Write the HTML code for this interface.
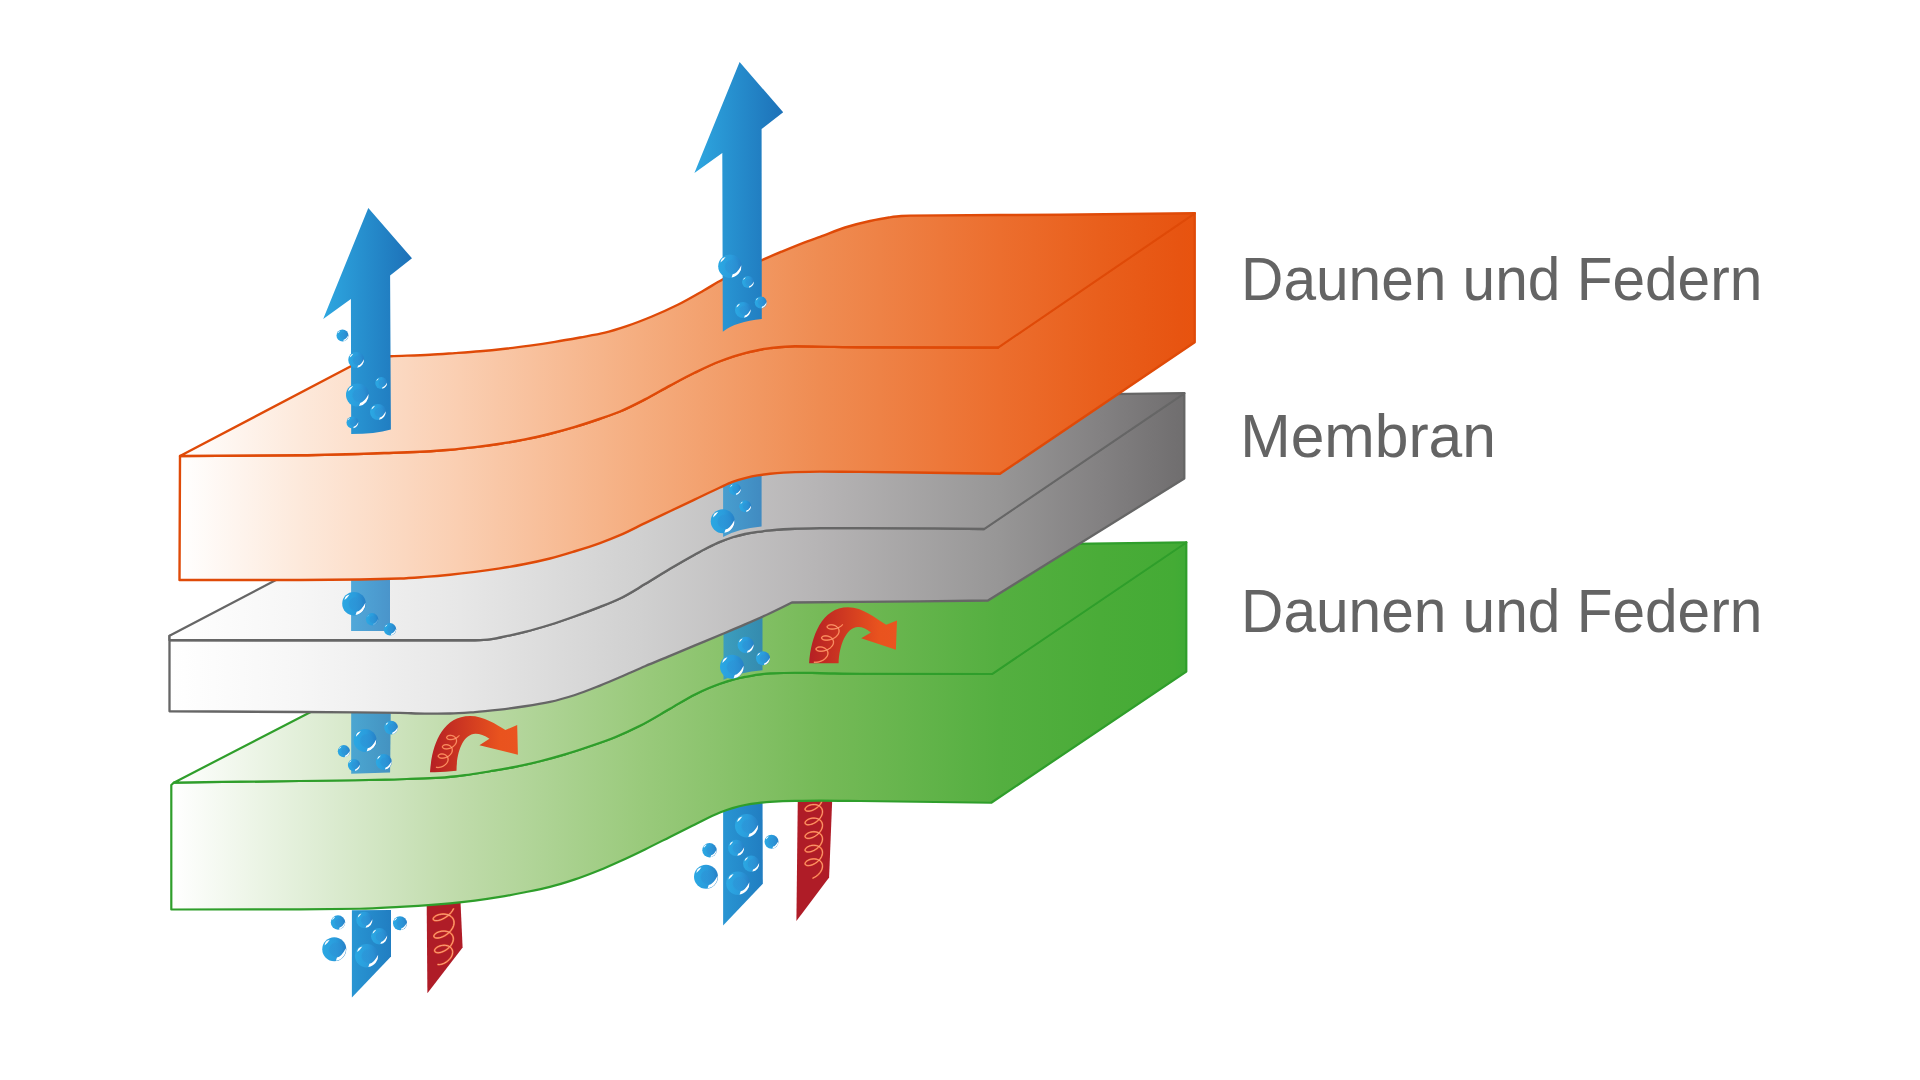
<!DOCTYPE html>
<html><head><meta charset="utf-8"><title>Membran</title>
<style>html,body{margin:0;padding:0;background:#fff;}body{width:1920px;height:1080px;overflow:hidden;font-family:"Liberation Sans",sans-serif;}svg{display:block}</style>
</head><body>
<svg width="1920" height="1080" viewBox="0 0 1920 1080">
<defs>
<linearGradient id="go" gradientUnits="userSpaceOnUse" x1="180" y1="0" x2="1196" y2="0"><stop offset="0.0000" stop-color="#ffffff"/><stop offset="0.1181" stop-color="#fde9db"/><stop offset="0.2756" stop-color="#faceb1"/><stop offset="0.4528" stop-color="#f5ad7f"/><stop offset="0.6299" stop-color="#ef8c52"/><stop offset="0.8071" stop-color="#ec6e2e"/><stop offset="0.9055" stop-color="#e95f1c"/><stop offset="0.9843" stop-color="#e75411"/><stop offset="1.0000" stop-color="#e8530e"/></linearGradient>
<linearGradient id="gg" gradientUnits="userSpaceOnUse" x1="170" y1="0" x2="1186" y2="0"><stop offset="0.0000" stop-color="#ffffff"/><stop offset="0.1280" stop-color="#f6f6f6"/><stop offset="0.2854" stop-color="#e7e7e7"/><stop offset="0.4626" stop-color="#d0d0d0"/><stop offset="0.6398" stop-color="#b6b4b5"/><stop offset="0.8169" stop-color="#979696"/><stop offset="0.9154" stop-color="#838182"/><stop offset="0.9921" stop-color="#716f70"/><stop offset="1.0000" stop-color="#6f6e6e"/></linearGradient>
<linearGradient id="gn" gradientUnits="userSpaceOnUse" x1="172" y1="0" x2="1188" y2="0"><stop offset="0.0000" stop-color="#ffffff"/><stop offset="0.1260" stop-color="#e2efd9"/><stop offset="0.2835" stop-color="#bfdbaa"/><stop offset="0.4606" stop-color="#9aca7c"/><stop offset="0.6378" stop-color="#76ba58"/><stop offset="0.8150" stop-color="#54af40"/><stop offset="0.9134" stop-color="#4aac38"/><stop offset="0.9862" stop-color="#44ab35"/><stop offset="1.0000" stop-color="#3eaa35"/></linearGradient>

<linearGradient id="ga1" gradientUnits="userSpaceOnUse" x1="323" y1="0" x2="412" y2="0"><stop offset="0" stop-color="#2ea7e0"/><stop offset="1" stop-color="#1d71b8"/></linearGradient>
<linearGradient id="ga2" gradientUnits="userSpaceOnUse" x1="694" y1="0" x2="783" y2="0"><stop offset="0" stop-color="#2ea7e0"/><stop offset="1" stop-color="#1d71b8"/></linearGradient>
<linearGradient id="gb" x1="0" y1="0" x2="1" y2="0"><stop offset="0" stop-color="#2ba8e3"/><stop offset="0.55" stop-color="#2a9cdc"/><stop offset="1" stop-color="#2780c7"/></linearGradient>
<radialGradient id="gbi" cx="0.5" cy="0.5" r="0.5"><stop offset="0" stop-color="#2d90d4" stop-opacity="0.55"/><stop offset="0.8" stop-color="#2d90d4" stop-opacity="0.45"/><stop offset="1" stop-color="#2d8fd3" stop-opacity="0"/></radialGradient>
<linearGradient id="gr1" gradientUnits="userSpaceOnUse" x1="430" y1="0" x2="518" y2="0"><stop offset="0" stop-color="#b51f24"/><stop offset="0.8" stop-color="#e9531e"/><stop offset="1" stop-color="#ea5420"/></linearGradient>
<linearGradient id="gr2" gradientUnits="userSpaceOnUse" x1="809" y1="0" x2="897" y2="0"><stop offset="0" stop-color="#b51f24"/><stop offset="0.8" stop-color="#e9531e"/><stop offset="1" stop-color="#ea5420"/></linearGradient>
</defs>
<rect width="1920" height="1080" fill="#ffffff"/>
<path d="M351.9,910.3 L391,910.1 L391,956.5 L351.9,997.4 Z" fill="url(#ga1)"/>
<path d="M723.1,790 L762.5,790 L762.8,883.75 L723.1,925.5 Z" fill="url(#ga2)"/>
<path d="M426.5,880 L459.5,880 L462.6,947.5 L427.4,993.2 Z" fill="#af1c27"/>
<path d="M798,780 L833,780 L829.1,877.5 L796.4,920.9 Z" fill="#af1c27"/>
<path d="M453.42,908.94 L452.38,910.77 L451.08,912.52 L449.57,914.17 L447.89,915.68 L446.09,917.02 L444.23,918.17 L442.37,919.11 L440.55,919.83 L438.84,920.33 L437.28,920.59 L435.93,920.65 L434.81,920.5 L433.97,920.17 L433.43,919.69 L433.2,919.09 L433.29,918.39 L433.7,917.65 L434.41,916.89 L435.39,916.15 L436.63,915.48 L438.08,914.9 L439.69,914.45 L441.42,914.17 L443.22,914.06 L445.02,914.15 L446.79,914.46 L448.45,914.98 L449.97,915.71 L451.3,916.66 L452.4,917.79 L453.24,919.1 L453.79,920.56 L454.04,922.13 L453.98,923.79 L453.62,925.5 L452.96,927.22 L452.03,928.92 L450.85,930.55 L449.47,932.09 L447.92,933.5 L446.26,934.75 L444.52,935.82 L442.78,936.69 L441.07,937.36 L439.45,937.8 L437.96,938.04 L436.66,938.06 L435.57,937.89 L434.74,937.55 L434.18,937.06 L433.92,936.44 L433.95,935.74 L434.28,934.98 L434.89,934.2 L435.76,933.44 L436.88,932.73 L438.2,932.12 L439.68,931.62 L441.28,931.27 L442.95,931.09 L444.63,931.1 L446.29,931.31 L447.86,931.72 L449.31,932.34 L450.59,933.16 L451.65,934.16 L452.48,935.34 L453.04,936.65 L453.32,938.08 L453.32,939.6 L453.03,941.17 L452.46,942.76 L451.64,944.32 L450.58,945.83 L449.33,947.25 L447.91,948.56 L446.38,949.71 L444.77,950.7 L443.14,951.5 L441.54,952.1 L440.02,952.5 L438.61,952.7 L437.36,952.69 L436.32,952.5 L435.5,952.14 L434.94,951.63 L434.64,951 L434.62,950.29 L434.87,949.51 L435.4,948.72 L436.17,947.94 L437.17,947.2 L438.36,946.55 L439.71,946 L441.18,945.59 L442.72,945.34 L444.29,945.27 L445.83,945.39 L447.31,945.7 L448.68,946.21 L449.89,946.9 L450.92,947.78 L451.72,948.82 L452.29,949.99 L452.6,951.28 L452.64,952.66 L452.42,954.09 L451.94,955.54 L451.22,956.97 L450.27,958.35 L449.14,959.66 L447.85,960.86 L446.45,961.92 L444.97,962.82 L443.47,963.54 L441.98,964.08 L440.55,964.43 L439.23,964.58 L438.05,964.54" fill="none" stroke="#ee5c2c" stroke-width="1.9" stroke-linecap="round" stroke-linejoin="round"/><path d="M453.42,908.94 L452.38,910.77 L451.08,912.52 L449.57,914.17 L447.89,915.68 L446.09,917.02 L444.23,918.17 L442.37,919.11 L440.55,919.83 L438.84,920.33 L437.28,920.59 L435.93,920.65 L434.81,920.5 L433.97,920.17 L433.43,919.69 L433.2,919.09 L433.29,918.39 L433.7,917.65 L434.41,916.89 L435.39,916.15 L436.63,915.48 L438.08,914.9 L439.69,914.45 L441.42,914.17 L443.22,914.06 L445.02,914.15 L446.79,914.46 L448.45,914.98 L449.97,915.71 L451.3,916.66 L452.4,917.79 L453.24,919.1 L453.79,920.56 L454.04,922.13 L453.98,923.79 L453.62,925.5 L452.96,927.22 L452.03,928.92 L450.85,930.55 L449.47,932.09 L447.92,933.5 L446.26,934.75 L444.52,935.82 L442.78,936.69 L441.07,937.36 L439.45,937.8 L437.96,938.04 L436.66,938.06 L435.57,937.89 L434.74,937.55 L434.18,937.06 L433.92,936.44 L433.95,935.74 L434.28,934.98 L434.89,934.2 L435.76,933.44 L436.88,932.73 L438.2,932.12 L439.68,931.62 L441.28,931.27 L442.95,931.09 L444.63,931.1 L446.29,931.31 L447.86,931.72 L449.31,932.34 L450.59,933.16 L451.65,934.16 L452.48,935.34 L453.04,936.65 L453.32,938.08 L453.32,939.6 L453.03,941.17 L452.46,942.76 L451.64,944.32 L450.58,945.83 L449.33,947.25 L447.91,948.56 L446.38,949.71 L444.77,950.7 L443.14,951.5 L441.54,952.1 L440.02,952.5 L438.61,952.7 L437.36,952.69 L436.32,952.5 L435.5,952.14 L434.94,951.63 L434.64,951 L434.62,950.29 L434.87,949.51 L435.4,948.72 L436.17,947.94 L437.17,947.2 L438.36,946.55 L439.71,946 L441.18,945.59 L442.72,945.34 L444.29,945.27 L445.83,945.39 L447.31,945.7 L448.68,946.21 L449.89,946.9 L450.92,947.78 L451.72,948.82 L452.29,949.99 L452.6,951.28 L452.64,952.66 L452.42,954.09 L451.94,955.54 L451.22,956.97 L450.27,958.35 L449.14,959.66 L447.85,960.86 L446.45,961.92 L444.97,962.82 L443.47,963.54 L441.98,964.08 L440.55,964.43 L439.23,964.58 L438.05,964.54" fill="none" stroke="#f9b59b" stroke-width="0.8" stroke-linecap="round" stroke-linejoin="round"/>
<path d="M821.68,801.81 L820.93,803.27 L819.96,804.69 L818.81,806.02 L817.51,807.25 L816.09,808.34 L814.61,809.27 L813.1,810.03 L811.61,810.6 L810.19,810.99 L808.88,811.18 L807.71,811.19 L806.73,811.02 L805.96,810.69 L805.43,810.23 L805.14,809.65 L805.12,808.99 L805.36,808.28 L805.85,807.55 L806.59,806.83 L807.54,806.16 L808.67,805.57 L809.96,805.09 L811.37,804.73 L812.85,804.54 L814.36,804.51 L815.85,804.67 L817.28,805.02 L818.6,805.56 L819.78,806.29 L820.78,807.19 L821.58,808.26 L822.13,809.46 L822.44,810.78 L822.49,812.18 L822.27,813.64 L821.8,815.12 L821.09,816.6 L820.16,818.02 L819.04,819.38 L817.77,820.62 L816.37,821.74 L814.9,822.71 L813.39,823.5 L811.89,824.11 L810.46,824.53 L809.12,824.76 L807.92,824.8 L806.9,824.66 L806.09,824.36 L805.51,823.93 L805.18,823.37 L805.11,822.72 L805.3,822.02 L805.74,821.29 L806.43,820.57 L807.34,819.89 L808.44,819.28 L809.7,818.77 L811.09,818.39 L812.56,818.16 L814.07,818.1 L815.56,818.23 L817.01,818.54 L818.36,819.04 L819.57,819.74 L820.61,820.61 L821.44,821.64 L822.04,822.82 L822.4,824.12 L822.5,825.51 L822.33,826.96 L821.91,828.44 L821.25,829.91 L820.36,831.35 L819.27,832.72 L818.02,833.99 L816.65,835.14 L815.18,836.13 L813.68,836.96 L812.18,837.61 L810.73,838.06 L809.37,838.33 L808.14,838.4 L807.08,838.3 L806.23,838.03 L805.6,837.62 L805.22,837.08 L805.1,836.45 L805.24,835.76 L805.64,835.03 L806.28,834.31 L807.15,833.61 L808.21,832.99 L809.45,832.46 L810.82,832.05 L812.27,831.79 L813.78,831.7 L815.28,831.79 L816.74,832.06 L818.11,832.53 L819.35,833.19 L820.42,834.03 L821.3,835.03 L821.95,836.18 L822.35,837.46 L822.5,838.83 L822.39,840.28 L822.01,841.75 L821.39,843.23 L820.55,844.68 L819.5,846.07 L818.28,847.36 L816.92,848.53 L815.47,849.55 L813.97,850.41 L812.46,851.1 L811,851.59 L809.62,851.89 L808.36,852 L807.27,851.94 L806.38,851.7 L805.7,851.31 L805.28,850.8 L805.1,850.18 L805.19,849.5 L805.54,848.77 L806.14,848.04 L806.96,847.34 L807.99,846.7 L809.2,846.15 L810.55,845.72 L811.99,845.43 L813.49,845.3 L814.99,845.36 L816.46,845.6 L817.85,846.03 L819.12,846.65 L820.23,847.45 L821.15,848.43 L821.84,849.55 L822.29,850.81 L822.49,852.16 L822.43,853.59 L822.1,855.07 L821.53,856.55 L820.73,858.01 L819.71,859.41 L818.52,860.72 L817.19,861.91 L815.75,862.97 L814.26,863.86 L812.75,864.58 L811.28,865.11 L809.88,865.45 L808.59,865.6 L807.47,865.56 L806.53,865.36 L805.82,865 L805.34,864.5 L805.12,863.91 L805.15,863.23 L805.45,862.51 L806,861.78 L806.79,861.07 L807.78,860.42 L808.96,859.85 L810.28,859.39 L811.7,859.07 L813.19,858.92 L814.7,858.93 L816.18,859.13 L817.59,859.53 L818.89,860.11 L820.03,860.88 L820.99,861.83 L821.73,862.92 L822.23,864.16 L822.47,865.5 L822.46,866.91 L822.19,868.38 L821.66,869.86 L820.9,871.33 L819.92,872.74 L818.76,874.07 L817.45,875.29 L816.04,876.38 L814.55,877.3 L813.04,878.06" fill="none" stroke="#ee5c2c" stroke-width="1.7" stroke-linecap="round" stroke-linejoin="round"/><path d="M821.68,801.81 L820.93,803.27 L819.96,804.69 L818.81,806.02 L817.51,807.25 L816.09,808.34 L814.61,809.27 L813.1,810.03 L811.61,810.6 L810.19,810.99 L808.88,811.18 L807.71,811.19 L806.73,811.02 L805.96,810.69 L805.43,810.23 L805.14,809.65 L805.12,808.99 L805.36,808.28 L805.85,807.55 L806.59,806.83 L807.54,806.16 L808.67,805.57 L809.96,805.09 L811.37,804.73 L812.85,804.54 L814.36,804.51 L815.85,804.67 L817.28,805.02 L818.6,805.56 L819.78,806.29 L820.78,807.19 L821.58,808.26 L822.13,809.46 L822.44,810.78 L822.49,812.18 L822.27,813.64 L821.8,815.12 L821.09,816.6 L820.16,818.02 L819.04,819.38 L817.77,820.62 L816.37,821.74 L814.9,822.71 L813.39,823.5 L811.89,824.11 L810.46,824.53 L809.12,824.76 L807.92,824.8 L806.9,824.66 L806.09,824.36 L805.51,823.93 L805.18,823.37 L805.11,822.72 L805.3,822.02 L805.74,821.29 L806.43,820.57 L807.34,819.89 L808.44,819.28 L809.7,818.77 L811.09,818.39 L812.56,818.16 L814.07,818.1 L815.56,818.23 L817.01,818.54 L818.36,819.04 L819.57,819.74 L820.61,820.61 L821.44,821.64 L822.04,822.82 L822.4,824.12 L822.5,825.51 L822.33,826.96 L821.91,828.44 L821.25,829.91 L820.36,831.35 L819.27,832.72 L818.02,833.99 L816.65,835.14 L815.18,836.13 L813.68,836.96 L812.18,837.61 L810.73,838.06 L809.37,838.33 L808.14,838.4 L807.08,838.3 L806.23,838.03 L805.6,837.62 L805.22,837.08 L805.1,836.45 L805.24,835.76 L805.64,835.03 L806.28,834.31 L807.15,833.61 L808.21,832.99 L809.45,832.46 L810.82,832.05 L812.27,831.79 L813.78,831.7 L815.28,831.79 L816.74,832.06 L818.11,832.53 L819.35,833.19 L820.42,834.03 L821.3,835.03 L821.95,836.18 L822.35,837.46 L822.5,838.83 L822.39,840.28 L822.01,841.75 L821.39,843.23 L820.55,844.68 L819.5,846.07 L818.28,847.36 L816.92,848.53 L815.47,849.55 L813.97,850.41 L812.46,851.1 L811,851.59 L809.62,851.89 L808.36,852 L807.27,851.94 L806.38,851.7 L805.7,851.31 L805.28,850.8 L805.1,850.18 L805.19,849.5 L805.54,848.77 L806.14,848.04 L806.96,847.34 L807.99,846.7 L809.2,846.15 L810.55,845.72 L811.99,845.43 L813.49,845.3 L814.99,845.36 L816.46,845.6 L817.85,846.03 L819.12,846.65 L820.23,847.45 L821.15,848.43 L821.84,849.55 L822.29,850.81 L822.49,852.16 L822.43,853.59 L822.1,855.07 L821.53,856.55 L820.73,858.01 L819.71,859.41 L818.52,860.72 L817.19,861.91 L815.75,862.97 L814.26,863.86 L812.75,864.58 L811.28,865.11 L809.88,865.45 L808.59,865.6 L807.47,865.56 L806.53,865.36 L805.82,865 L805.34,864.5 L805.12,863.91 L805.15,863.23 L805.45,862.51 L806,861.78 L806.79,861.07 L807.78,860.42 L808.96,859.85 L810.28,859.39 L811.7,859.07 L813.19,858.92 L814.7,858.93 L816.18,859.13 L817.59,859.53 L818.89,860.11 L820.03,860.88 L820.99,861.83 L821.73,862.92 L822.23,864.16 L822.47,865.5 L822.46,866.91 L822.19,868.38 L821.66,869.86 L820.9,871.33 L819.92,872.74 L818.76,874.07 L817.45,875.29 L816.04,876.38 L814.55,877.3 L813.04,878.06" fill="none" stroke="#f9b59b" stroke-width="0.71" stroke-linecap="round" stroke-linejoin="round"/>
<g transform="translate(338,922.5) scale(0.72)"><circle r="10" fill="url(#gb)"/><circle cx="1.4" cy="0.3" r="6.4" fill="url(#gbi)"/><g><path d="M9.66,-0.85 A9.7,9.7 0 0 1 1.35,9.6 L2.24,6.87 Q5.98,6.32 9.66,-0.85Z" fill="#fff"/><path d="M-8.06,-3.13 A5.26,5.26 0 0 1 -3.73,-7.9 A19.3,19.3 0 0 1 -8.06,-3.13Z" fill="#fff"/></g></g>
<g transform="translate(364.5,920) scale(0.82)"><circle r="10" fill="url(#gb)"/><circle cx="1.4" cy="0.3" r="6.4" fill="url(#gbi)"/><g><path d="M9.66,-0.85 A9.7,9.7 0 0 1 1.35,9.6 L2.24,6.87 Q5.98,6.32 9.66,-0.85Z" fill="#fff"/><path d="M-8.06,-3.13 A5.26,5.26 0 0 1 -3.73,-7.9 A19.3,19.3 0 0 1 -8.06,-3.13Z" fill="#fff"/></g></g>
<g transform="translate(400,923.25) scale(0.7)"><circle r="10" fill="url(#gb)"/><circle cx="1.4" cy="0.3" r="6.4" fill="url(#gbi)"/><g><path d="M9.66,-0.85 A9.7,9.7 0 0 1 1.35,9.6 L2.24,6.87 Q5.98,6.32 9.66,-0.85Z" fill="#fff"/><path d="M-8.06,-3.13 A5.26,5.26 0 0 1 -3.73,-7.9 A19.3,19.3 0 0 1 -8.06,-3.13Z" fill="#fff"/></g></g>
<g transform="translate(379.25,936.25) scale(0.82)"><circle r="10" fill="url(#gb)"/><circle cx="1.4" cy="0.3" r="6.4" fill="url(#gbi)"/><g><path d="M9.66,-0.85 A9.7,9.7 0 0 1 1.35,9.6 L2.24,6.87 Q5.98,6.32 9.66,-0.85Z" fill="#fff"/><path d="M-8.06,-3.13 A5.26,5.26 0 0 1 -3.73,-7.9 A19.3,19.3 0 0 1 -8.06,-3.13Z" fill="#fff"/></g></g>
<g transform="translate(334.25,949.25) scale(1.2)"><circle r="10" fill="url(#gb)"/><circle cx="1.4" cy="0.3" r="6.4" fill="url(#gbi)"/><g><path d="M9.66,-0.85 A9.7,9.7 0 0 1 1.35,9.6 L2.24,6.87 Q5.98,6.32 9.66,-0.85Z" fill="#fff"/><path d="M-8.06,-3.13 A5.26,5.26 0 0 1 -3.73,-7.9 A19.3,19.3 0 0 1 -8.06,-3.13Z" fill="#fff"/></g></g>
<g transform="translate(366.75,955.75) scale(1.18)"><circle r="10" fill="url(#gb)"/><circle cx="1.4" cy="0.3" r="6.4" fill="url(#gbi)"/><g><path d="M9.66,-0.85 A9.7,9.7 0 0 1 1.35,9.6 L2.24,6.87 Q5.98,6.32 9.66,-0.85Z" fill="#fff"/><path d="M-8.06,-3.13 A5.26,5.26 0 0 1 -3.73,-7.9 A19.3,19.3 0 0 1 -8.06,-3.13Z" fill="#fff"/></g></g>
<g transform="translate(746.75,825.75) scale(1.18)"><circle r="10" fill="url(#gb)"/><circle cx="1.4" cy="0.3" r="6.4" fill="url(#gbi)"/><g><path d="M9.66,-0.85 A9.7,9.7 0 0 1 1.35,9.6 L2.24,6.87 Q5.98,6.32 9.66,-0.85Z" fill="#fff"/><path d="M-8.06,-3.13 A5.26,5.26 0 0 1 -3.73,-7.9 A19.3,19.3 0 0 1 -8.06,-3.13Z" fill="#fff"/></g></g>
<g transform="translate(771.5,841.75) scale(0.7)"><circle r="10" fill="url(#gb)"/><circle cx="1.4" cy="0.3" r="6.4" fill="url(#gbi)"/><g><path d="M9.66,-0.85 A9.7,9.7 0 0 1 1.35,9.6 L2.24,6.87 Q5.98,6.32 9.66,-0.85Z" fill="#fff"/><path d="M-8.06,-3.13 A5.26,5.26 0 0 1 -3.73,-7.9 A19.3,19.3 0 0 1 -8.06,-3.13Z" fill="#fff"/></g></g>
<g transform="translate(709.5,850.25) scale(0.72)"><circle r="10" fill="url(#gb)"/><circle cx="1.4" cy="0.3" r="6.4" fill="url(#gbi)"/><g><path d="M9.66,-0.85 A9.7,9.7 0 0 1 1.35,9.6 L2.24,6.87 Q5.98,6.32 9.66,-0.85Z" fill="#fff"/><path d="M-8.06,-3.13 A5.26,5.26 0 0 1 -3.73,-7.9 A19.3,19.3 0 0 1 -8.06,-3.13Z" fill="#fff"/></g></g>
<g transform="translate(736.25,848) scale(0.82)"><circle r="10" fill="url(#gb)"/><circle cx="1.4" cy="0.3" r="6.4" fill="url(#gbi)"/><g><path d="M9.66,-0.85 A9.7,9.7 0 0 1 1.35,9.6 L2.24,6.87 Q5.98,6.32 9.66,-0.85Z" fill="#fff"/><path d="M-8.06,-3.13 A5.26,5.26 0 0 1 -3.73,-7.9 A19.3,19.3 0 0 1 -8.06,-3.13Z" fill="#fff"/></g></g>
<g transform="translate(751.25,863.75) scale(0.82)"><circle r="10" fill="url(#gb)"/><circle cx="1.4" cy="0.3" r="6.4" fill="url(#gbi)"/><g><path d="M9.66,-0.85 A9.7,9.7 0 0 1 1.35,9.6 L2.24,6.87 Q5.98,6.32 9.66,-0.85Z" fill="#fff"/><path d="M-8.06,-3.13 A5.26,5.26 0 0 1 -3.73,-7.9 A19.3,19.3 0 0 1 -8.06,-3.13Z" fill="#fff"/></g></g>
<g transform="translate(706,876.75) scale(1.2)"><circle r="10" fill="url(#gb)"/><circle cx="1.4" cy="0.3" r="6.4" fill="url(#gbi)"/><g><path d="M9.66,-0.85 A9.7,9.7 0 0 1 1.35,9.6 L2.24,6.87 Q5.98,6.32 9.66,-0.85Z" fill="#fff"/><path d="M-8.06,-3.13 A5.26,5.26 0 0 1 -3.73,-7.9 A19.3,19.3 0 0 1 -8.06,-3.13Z" fill="#fff"/></g></g>
<g transform="translate(738,883.25) scale(1.18)"><circle r="10" fill="url(#gb)"/><circle cx="1.4" cy="0.3" r="6.4" fill="url(#gbi)"/><g><path d="M9.66,-0.85 A9.7,9.7 0 0 1 1.35,9.6 L2.24,6.87 Q5.98,6.32 9.66,-0.85Z" fill="#fff"/><path d="M-8.06,-3.13 A5.26,5.26 0 0 1 -3.73,-7.9 A19.3,19.3 0 0 1 -8.06,-3.13Z" fill="#fff"/></g></g>
<path d="M171.3,785 L173.75,782.7 C195.83,782.33 217.92,781.99 240,781.7 C260,781.44 280,781.26 300,781 C328.33,780.63 356.67,780.33 385,779.7 C393.33,779.52 401.67,779.2 410,778.9 C420,778.55 430,778.28 440,777.7 C448.33,777.22 456.67,776.22 465,775.2 C473.33,774.18 481.67,772.63 490,771.25 C498.33,769.87 506.67,768.54 515,766.9 C523.33,765.26 531.67,763.31 540,761.25 C548.33,759.19 556.67,756.88 565,754.4 C573.33,751.92 581.67,749.11 590,746.25 C598.33,743.39 606.67,740.56 615,737.2 C623.33,733.84 631.67,730 640,725.8 C650,720.76 660,714.46 670,708.75 C678.33,703.99 686.67,698.48 695,694.4 C703.33,690.32 711.67,686.53 720,683.75 C728.33,680.97 736.67,678.44 745,676.9 C753.33,675.36 761.67,673.77 770,673.4 C778.33,673.03 786.67,672.75 795,672.75 C803.33,672.75 811.67,672.98 820,673.1 C833.33,673.3 846.67,673.7 860,673.75 C904,673.92 948,674 992,674 L1186.3,542.4 L1186.3,671.6 L991.25,802.75 C947.5,802.05 903.75,801.49 860,801 C846.67,800.85 833.33,800.6 820,800.6 C811.67,800.6 803.33,800.75 795,800.9 C786.67,801.05 778.33,801.41 770,801.9 C765.83,802.15 761.67,802.61 757.5,803.1 C753.33,803.59 749.17,804.21 745,805 C740.83,805.79 736.67,806.89 732.5,808.1 C728.33,809.31 724.17,810.84 720,812.5 C711.67,815.82 703.33,820.34 695,824.4 C686.67,828.46 678.33,832.73 670,836.9 C661.67,841.07 653.33,845.34 645,849.4 C636.67,853.46 628.33,857.46 620,861.25 C613.33,864.28 606.67,867.3 600,870 C591.67,873.38 583.33,876.62 575,879.4 C566.67,882.18 558.33,884.82 550,886.9 C541.67,888.98 533.33,890.59 525,892.25 C516.67,893.91 508.33,895.53 500,896.9 C491.67,898.27 483.33,899.54 475,900.6 C466.67,901.66 458.33,902.62 450,903.4 C441.67,904.18 433.33,904.83 425,905.4 C416.67,905.97 408.33,906.46 400,906.9 C386.67,907.6 373.33,908.54 360,908.75 C340,909.07 320,909.24 300,909.3 C257.1,909.42 214.2,909.5 171.3,909.5 Z" fill="url(#gn)" stroke="#2f9e2b" stroke-width="2.2" stroke-linejoin="round"/>
<path d="M173.75,782.7 L365,684 L900,546 L1186.3,542.4 L1186.3,542.4 L992,674 C948,674 904,673.92 860,673.75 C846.67,673.7 833.33,673.3 820,673.1 C811.67,672.98 803.33,672.75 795,672.75 C786.67,672.75 778.33,673.03 770,673.4 C761.67,673.77 753.33,675.36 745,676.9 C736.67,678.44 728.33,680.97 720,683.75 C711.67,686.53 703.33,690.32 695,694.4 C686.67,698.48 678.33,703.99 670,708.75 C660,714.46 650,720.76 640,725.8 C631.67,730 623.33,733.84 615,737.2 C606.67,740.56 598.33,743.39 590,746.25 C581.67,749.11 573.33,751.92 565,754.4 C556.67,756.88 548.33,759.19 540,761.25 C531.67,763.31 523.33,765.26 515,766.9 C506.67,768.54 498.33,769.87 490,771.25 C481.67,772.63 473.33,774.18 465,775.2 C456.67,776.22 448.33,777.22 440,777.7 C430,778.28 420,778.55 410,778.9 C401.67,779.2 393.33,779.52 385,779.7 C356.67,780.33 328.33,780.63 300,781 C280,781.26 260,781.44 240,781.7 C217.92,781.99 195.83,782.33 173.75,782.7 Z" fill="url(#gn)"/>
<path d="M992,674 C948,674 904,673.92 860,673.75 C846.67,673.7 833.33,673.3 820,673.1 C811.67,672.98 803.33,672.75 795,672.75 C786.67,672.75 778.33,673.03 770,673.4 C761.67,673.77 753.33,675.36 745,676.9 C736.67,678.44 728.33,680.97 720,683.75 C711.67,686.53 703.33,690.32 695,694.4 C686.67,698.48 678.33,703.99 670,708.75 C660,714.46 650,720.76 640,725.8 C631.67,730 623.33,733.84 615,737.2 C606.67,740.56 598.33,743.39 590,746.25 C581.67,749.11 573.33,751.92 565,754.4 C556.67,756.88 548.33,759.19 540,761.25 C531.67,763.31 523.33,765.26 515,766.9 C506.67,768.54 498.33,769.87 490,771.25 C481.67,772.63 473.33,774.18 465,775.2 C456.67,776.22 448.33,777.22 440,777.7 C430,778.28 420,778.55 410,778.9 C401.67,779.2 393.33,779.52 385,779.7 C356.67,780.33 328.33,780.63 300,781 C280,781.26 260,781.44 240,781.7 C217.92,781.99 195.83,782.33 173.75,782.7 L173.75,782.7 L365,684 L900,546 L1186.3,542.4 L1186.3,542.4" fill="none" stroke="#2f9e2b" stroke-width="2.2" stroke-linejoin="round" stroke-linecap="round"/>
<path d="M992,674 L1186.3,542.4" fill="none" stroke="#2f9e2b" stroke-width="1.7" stroke-linecap="round"/>
<path d="M351.2,690 L391,690 L390.1,772.4 L351.2,773.75 Z" fill="url(#ga1)" opacity="0.8"/>
<path d="M723.5,600 L762.5,600 L762.5,670.3 Q740,672 723.5,679.75 Z" fill="url(#ga2)" opacity="0.8"/>
<g transform="translate(391.1,727.6) scale(0.69)"><circle r="10" fill="url(#gb)"/><circle cx="1.4" cy="0.3" r="6.4" fill="url(#gbi)"/><g><path d="M9.66,-0.85 A9.7,9.7 0 0 1 1.35,9.6 L2.24,6.87 Q5.98,6.32 9.66,-0.85Z" fill="#fff"/><path d="M-8.06,-3.13 A5.26,5.26 0 0 1 -3.73,-7.9 A19.3,19.3 0 0 1 -8.06,-3.13Z" fill="#fff"/></g></g>
<g transform="translate(365.1,740.4) scale(1.15)"><circle r="10" fill="url(#gb)"/><circle cx="1.4" cy="0.3" r="6.4" fill="url(#gbi)"/><g><path d="M9.66,-0.85 A9.7,9.7 0 0 1 1.35,9.6 L2.24,6.87 Q5.98,6.32 9.66,-0.85Z" fill="#fff"/><path d="M-8.06,-3.13 A5.26,5.26 0 0 1 -3.73,-7.9 A19.3,19.3 0 0 1 -8.06,-3.13Z" fill="#fff"/></g></g>
<g transform="translate(343.9,751.2) scale(0.61)"><circle r="10" fill="url(#gb)"/><circle cx="1.4" cy="0.3" r="6.4" fill="url(#gbi)"/><g><path d="M9.66,-0.85 A9.7,9.7 0 0 1 1.35,9.6 L2.24,6.87 Q5.98,6.32 9.66,-0.85Z" fill="#fff"/><path d="M-8.06,-3.13 A5.26,5.26 0 0 1 -3.73,-7.9 A19.3,19.3 0 0 1 -8.06,-3.13Z" fill="#fff"/></g></g>
<g transform="translate(383.8,761.9) scale(0.8)"><circle r="10" fill="url(#gb)"/><circle cx="1.4" cy="0.3" r="6.4" fill="url(#gbi)"/><g><path d="M9.66,-0.85 A9.7,9.7 0 0 1 1.35,9.6 L2.24,6.87 Q5.98,6.32 9.66,-0.85Z" fill="#fff"/><path d="M-8.06,-3.13 A5.26,5.26 0 0 1 -3.73,-7.9 A19.3,19.3 0 0 1 -8.06,-3.13Z" fill="#fff"/></g></g>
<g transform="translate(354,765.1) scale(0.61)"><circle r="10" fill="url(#gb)"/><circle cx="1.4" cy="0.3" r="6.4" fill="url(#gbi)"/><g><path d="M9.66,-0.85 A9.7,9.7 0 0 1 1.35,9.6 L2.24,6.87 Q5.98,6.32 9.66,-0.85Z" fill="#fff"/><path d="M-8.06,-3.13 A5.26,5.26 0 0 1 -3.73,-7.9 A19.3,19.3 0 0 1 -8.06,-3.13Z" fill="#fff"/></g></g>
<g transform="translate(745.75,645) scale(0.82)"><circle r="10" fill="url(#gb)"/><circle cx="1.4" cy="0.3" r="6.4" fill="url(#gbi)"/><g><path d="M9.66,-0.85 A9.7,9.7 0 0 1 1.35,9.6 L2.24,6.87 Q5.98,6.32 9.66,-0.85Z" fill="#fff"/><path d="M-8.06,-3.13 A5.26,5.26 0 0 1 -3.73,-7.9 A19.3,19.3 0 0 1 -8.06,-3.13Z" fill="#fff"/></g></g>
<g transform="translate(763,658.25) scale(0.7)"><circle r="10" fill="url(#gb)"/><circle cx="1.4" cy="0.3" r="6.4" fill="url(#gbi)"/><g><path d="M9.66,-0.85 A9.7,9.7 0 0 1 1.35,9.6 L2.24,6.87 Q5.98,6.32 9.66,-0.85Z" fill="#fff"/><path d="M-8.06,-3.13 A5.26,5.26 0 0 1 -3.73,-7.9 A19.3,19.3 0 0 1 -8.06,-3.13Z" fill="#fff"/></g></g>
<g transform="translate(732,666.75) scale(1.2)"><circle r="10" fill="url(#gb)"/><circle cx="1.4" cy="0.3" r="6.4" fill="url(#gbi)"/><g><path d="M9.66,-0.85 A9.7,9.7 0 0 1 1.35,9.6 L2.24,6.87 Q5.98,6.32 9.66,-0.85Z" fill="#fff"/><path d="M-8.06,-3.13 A5.26,5.26 0 0 1 -3.73,-7.9 A19.3,19.3 0 0 1 -8.06,-3.13Z" fill="#fff"/></g></g>
<path d="M430,772.2 C431.5,748 441,716.1 470,716.1 C484,716.1 496,724.5 505.4,730 L517.2,725.1 L517.9,754.7 L479.4,745.3 L489.4,738.7 C484.5,735.3 479,733.6 475.2,733.8 C463,734.5 456.6,752 456.5,770.8 Q443,772.6 430,772.2 Z" fill="url(#gr1)"/>
<path d="M809.1,663.2 C811,636 822,607.2 848,607.2 C863,607.2 876,618.5 886.2,624.8 L897,620.4 L895.9,649.8 L861.2,638.2 L870.9,632.5 C866,628.5 862,626.8 858,626.9 C846,627.5 839.3,645 838.6,663.2 Z" fill="url(#gr2)"/>
<path d="M436.49,767.35 L437.41,767.46 L438.44,767.47 L439.53,767.35 L440.67,767.11 L441.82,766.74 L442.94,766.25 L444.02,765.64 L445.01,764.93 L445.9,764.13 L446.67,763.26 L447.28,762.33 L447.72,761.36 L448,760.38 L448.09,759.4 L448.01,758.46 L447.75,757.56 L447.34,756.74 L446.78,756 L446.09,755.36 L445.31,754.83 L444.45,754.42 L443.55,754.14 L442.63,753.99 L441.74,753.95 L440.89,754.04 L440.12,754.23 L439.45,754.51 L438.92,754.86 L438.53,755.28 L438.3,755.73 L438.24,756.2 L438.37,756.66 L438.67,757.09 L439.15,757.48 L439.78,757.79 L440.57,758.03 L441.48,758.16 L442.49,758.18 L443.57,758.08 L444.71,757.86 L445.85,757.51 L446.98,757.04 L448.07,756.45 L449.08,755.76 L449.99,754.97 L450.77,754.1 L451.41,753.18 L451.88,752.22 L452.18,751.24 L452.3,750.26 L452.25,749.31 L452.02,748.4 L451.62,747.57 L451.09,746.81 L450.42,746.16 L449.65,745.61 L448.8,745.19 L447.9,744.89 L446.99,744.71 L446.09,744.66 L445.23,744.73 L444.44,744.9 L443.76,745.17 L443.2,745.51 L442.79,745.92 L442.53,746.37 L442.45,746.83 L442.55,747.3 L442.83,747.73 L443.28,748.13 L443.89,748.46 L444.65,748.71 L445.54,748.85 L446.54,748.89 L447.62,748.81 L448.74,748.61 L449.89,748.28 L451.03,747.83 L452.12,747.26 L453.14,746.58 L454.07,745.8 L454.87,744.95 L455.53,744.03 L456.03,743.07 L456.36,742.09 L456.51,741.11 L456.48,740.16 L456.28,739.25 L455.91,738.4 L455.39,737.63 L454.74,736.96 L453.98,736.4 L453.14,735.95 L452.25,735.63 L451.34,735.44 L450.43,735.37 L449.57,735.42 L448.77,735.57 L448.07,735.83 L447.49,736.16 L447.05,736.56 L446.77,737 L446.67,737.47 L446.74,737.93 L446.98,738.38 L447.41,738.78 L448,739.12 L448.74,739.38 L449.61,739.55 L450.59,739.6 L451.66,739.54 L452.78,739.36 L453.93,739.05 L455.07,738.61 L456.17,738.06 L457.21,737.4 L458.15,736.64 L458.97,735.79" fill="none" stroke="#ee5c2c" stroke-width="1.5" stroke-linecap="round" stroke-linejoin="round"/><path d="M436.49,767.35 L437.41,767.46 L438.44,767.47 L439.53,767.35 L440.67,767.11 L441.82,766.74 L442.94,766.25 L444.02,765.64 L445.01,764.93 L445.9,764.13 L446.67,763.26 L447.28,762.33 L447.72,761.36 L448,760.38 L448.09,759.4 L448.01,758.46 L447.75,757.56 L447.34,756.74 L446.78,756 L446.09,755.36 L445.31,754.83 L444.45,754.42 L443.55,754.14 L442.63,753.99 L441.74,753.95 L440.89,754.04 L440.12,754.23 L439.45,754.51 L438.92,754.86 L438.53,755.28 L438.3,755.73 L438.24,756.2 L438.37,756.66 L438.67,757.09 L439.15,757.48 L439.78,757.79 L440.57,758.03 L441.48,758.16 L442.49,758.18 L443.57,758.08 L444.71,757.86 L445.85,757.51 L446.98,757.04 L448.07,756.45 L449.08,755.76 L449.99,754.97 L450.77,754.1 L451.41,753.18 L451.88,752.22 L452.18,751.24 L452.3,750.26 L452.25,749.31 L452.02,748.4 L451.62,747.57 L451.09,746.81 L450.42,746.16 L449.65,745.61 L448.8,745.19 L447.9,744.89 L446.99,744.71 L446.09,744.66 L445.23,744.73 L444.44,744.9 L443.76,745.17 L443.2,745.51 L442.79,745.92 L442.53,746.37 L442.45,746.83 L442.55,747.3 L442.83,747.73 L443.28,748.13 L443.89,748.46 L444.65,748.71 L445.54,748.85 L446.54,748.89 L447.62,748.81 L448.74,748.61 L449.89,748.28 L451.03,747.83 L452.12,747.26 L453.14,746.58 L454.07,745.8 L454.87,744.95 L455.53,744.03 L456.03,743.07 L456.36,742.09 L456.51,741.11 L456.48,740.16 L456.28,739.25 L455.91,738.4 L455.39,737.63 L454.74,736.96 L453.98,736.4 L453.14,735.95 L452.25,735.63 L451.34,735.44 L450.43,735.37 L449.57,735.42 L448.77,735.57 L448.07,735.83 L447.49,736.16 L447.05,736.56 L446.77,737 L446.67,737.47 L446.74,737.93 L446.98,738.38 L447.41,738.78 L448,739.12 L448.74,739.38 L449.61,739.55 L450.59,739.6 L451.66,739.54 L452.78,739.36 L453.93,739.05 L455.07,738.61 L456.17,738.06 L457.21,737.4 L458.15,736.64 L458.97,735.79" fill="none" stroke="#f9b59b" stroke-width="0.63" stroke-linecap="round" stroke-linejoin="round"/>
<path d="M814.35,662.27 L815.59,662.3 L816.93,662.2 L818.33,661.97 L819.75,661.6 L821.16,661.09 L822.51,660.46 L823.78,659.7 L824.92,658.84 L825.9,657.88 L826.71,656.86 L827.33,655.78 L827.72,654.68 L827.91,653.58 L827.87,652.51 L827.61,651.47 L827.15,650.51 L826.52,649.63 L825.72,648.86 L824.79,648.21 L823.76,647.69 L822.67,647.3 L821.56,647.05 L820.46,646.94 L819.41,646.96 L818.46,647.1 L817.62,647.35 L816.94,647.69 L816.43,648.1 L816.12,648.55 L816.02,649.04 L816.15,649.53 L816.49,649.99 L817.04,650.41 L817.8,650.76 L818.75,651.03 L819.85,651.19 L821.08,651.23 L822.42,651.14 L823.81,650.92 L825.23,650.56 L826.64,650.06 L828,649.43 L829.27,648.68 L830.42,647.82 L831.42,646.87 L832.24,645.85 L832.86,644.78 L833.27,643.68 L833.47,642.58 L833.44,641.5 L833.2,640.46 L832.76,639.49 L832.13,638.61 L831.34,637.83 L830.42,637.18 L829.39,636.64 L828.31,636.25 L827.2,635.99 L826.09,635.87 L825.04,635.88 L824.08,636.02 L823.23,636.26 L822.54,636.59 L822.02,637 L821.7,637.45 L821.59,637.94 L821.7,638.42 L822.03,638.89 L822.57,639.31 L823.32,639.67 L824.25,639.94 L825.34,640.11 L826.57,640.16 L827.9,640.08 L829.29,639.86 L830.71,639.51 L832.12,639.02 L833.49,638.4 L834.76,637.65 L835.92,636.8 L836.93,635.86 L837.76,634.84 L838.4,633.77 L838.82,632.67 L839.03,631.57 L839.02,630.49 L838.79,629.45 L838.36,628.48 L837.74,627.59 L836.96,626.81 L836.04,626.14 L835.03,625.6 L833.94,625.2 L832.83,624.93 L831.73,624.8 L830.67,624.81 L829.7,624.93 L828.85,625.17 L828.15,625.5 L827.62,625.9 L827.28,626.35 L827.16,626.83 L827.25,627.32 L827.57,627.79 L828.1,628.21 L828.83,628.58 L829.75,628.85 L830.84,629.03 L832.06,629.08 L833.38,629.01 L834.77,628.81 L836.19,628.46 L837.61,627.98 L838.97,627.37 L840.25,626.63 L841.42,625.78 L842.44,624.84" fill="none" stroke="#ee5c2c" stroke-width="1.6" stroke-linecap="round" stroke-linejoin="round"/><path d="M814.35,662.27 L815.59,662.3 L816.93,662.2 L818.33,661.97 L819.75,661.6 L821.16,661.09 L822.51,660.46 L823.78,659.7 L824.92,658.84 L825.9,657.88 L826.71,656.86 L827.33,655.78 L827.72,654.68 L827.91,653.58 L827.87,652.51 L827.61,651.47 L827.15,650.51 L826.52,649.63 L825.72,648.86 L824.79,648.21 L823.76,647.69 L822.67,647.3 L821.56,647.05 L820.46,646.94 L819.41,646.96 L818.46,647.1 L817.62,647.35 L816.94,647.69 L816.43,648.1 L816.12,648.55 L816.02,649.04 L816.15,649.53 L816.49,649.99 L817.04,650.41 L817.8,650.76 L818.75,651.03 L819.85,651.19 L821.08,651.23 L822.42,651.14 L823.81,650.92 L825.23,650.56 L826.64,650.06 L828,649.43 L829.27,648.68 L830.42,647.82 L831.42,646.87 L832.24,645.85 L832.86,644.78 L833.27,643.68 L833.47,642.58 L833.44,641.5 L833.2,640.46 L832.76,639.49 L832.13,638.61 L831.34,637.83 L830.42,637.18 L829.39,636.64 L828.31,636.25 L827.2,635.99 L826.09,635.87 L825.04,635.88 L824.08,636.02 L823.23,636.26 L822.54,636.59 L822.02,637 L821.7,637.45 L821.59,637.94 L821.7,638.42 L822.03,638.89 L822.57,639.31 L823.32,639.67 L824.25,639.94 L825.34,640.11 L826.57,640.16 L827.9,640.08 L829.29,639.86 L830.71,639.51 L832.12,639.02 L833.49,638.4 L834.76,637.65 L835.92,636.8 L836.93,635.86 L837.76,634.84 L838.4,633.77 L838.82,632.67 L839.03,631.57 L839.02,630.49 L838.79,629.45 L838.36,628.48 L837.74,627.59 L836.96,626.81 L836.04,626.14 L835.03,625.6 L833.94,625.2 L832.83,624.93 L831.73,624.8 L830.67,624.81 L829.7,624.93 L828.85,625.17 L828.15,625.5 L827.62,625.9 L827.28,626.35 L827.16,626.83 L827.25,627.32 L827.57,627.79 L828.1,628.21 L828.83,628.58 L829.75,628.85 L830.84,629.03 L832.06,629.08 L833.38,629.01 L834.77,628.81 L836.19,628.46 L837.61,627.98 L838.97,627.37 L840.25,626.63 L841.42,625.78 L842.44,624.84" fill="none" stroke="#f9b59b" stroke-width="0.67" stroke-linecap="round" stroke-linejoin="round"/>
<path d="M169.5,635.8 L169.5,640.2 C213,640.23 256.5,640.25 300,640.25 C333.33,640.25 366.67,640.25 400,640.25 C425,640.25 450,640.25 475,640.25 C479.17,640.25 483.33,639.93 487.5,639.6 C491.67,639.27 495.83,638.29 500,637.5 C508.33,635.92 516.67,633.99 525,631.9 C533.33,629.81 541.67,627.34 550,624.75 C558.33,622.16 566.67,619.22 575,616.25 C583.33,613.28 591.67,610.2 600,606.9 C606.67,604.26 613.33,601.72 620,598.5 C628.33,594.48 636.67,589.05 645,584.1 C653.33,579.15 661.67,573.69 670,568.75 C678.33,563.81 686.67,558.98 695,554.4 C699.17,552.11 703.33,549.82 707.5,547.75 C711.67,545.68 715.83,543.63 720,541.9 C724.17,540.17 728.33,538.53 732.5,537.25 C736.67,535.97 740.83,534.85 745,534 C749.17,533.15 753.33,532.48 757.5,531.9 C761.67,531.32 765.83,530.77 770,530.4 C778.33,529.67 786.67,529.06 795,528.75 C803.33,528.44 811.67,528.1 820,528.1 C833.33,528.1 846.67,528.1 860,528.1 C901.33,528.1 942.67,528.47 984,529 L1184.3,393.2 L1184.3,478.6 L988,600.5 C945.33,601.03 902.67,601.49 860,601.9 C837.3,602.12 814.6,602.32 791.9,602.5 C784.6,606.21 777.3,609.78 770,613.2 C761.67,617.1 753.33,620.77 745,624.4 C736.67,628.03 728.33,631.5 720,635 C711.67,638.5 703.33,641.92 695,645.4 C686.67,648.88 678.33,652.43 670,655.9 C661.67,659.37 653.33,662.7 645,666.25 C638.33,669.09 631.67,672.13 625,675 C616.67,678.59 608.33,682.28 600,685.6 C591.67,688.92 583.33,692.35 575,695 C566.67,697.65 558.33,700.12 550,701.9 C541.67,703.68 533.33,704.99 525,706.25 C516.67,707.51 508.33,708.65 500,709.6 C491.67,710.55 483.33,711.5 475,712.1 C466.67,712.7 458.33,713.44 450,713.5 C441.67,713.56 433.33,713.6 425,713.6 C416.67,713.6 408.33,713.03 400,712.9 C366.67,712.39 333.33,712.24 300,712 C256.5,711.69 213,711.42 169.5,711.25 Z" fill="url(#gg)" stroke="#666666" stroke-width="2.3" stroke-linejoin="round"/>
<path d="M169.5,635.8 L360,536 L900,397 L1184.3,393.2 L1184.3,393.2 L984,529 C942.67,528.47 901.33,528.1 860,528.1 C846.67,528.1 833.33,528.1 820,528.1 C811.67,528.1 803.33,528.44 795,528.75 C786.67,529.06 778.33,529.67 770,530.4 C765.83,530.77 761.67,531.32 757.5,531.9 C753.33,532.48 749.17,533.15 745,534 C740.83,534.85 736.67,535.97 732.5,537.25 C728.33,538.53 724.17,540.17 720,541.9 C715.83,543.63 711.67,545.68 707.5,547.75 C703.33,549.82 699.17,552.11 695,554.4 C686.67,558.98 678.33,563.81 670,568.75 C661.67,573.69 653.33,579.15 645,584.1 C636.67,589.05 628.33,594.48 620,598.5 C613.33,601.72 606.67,604.26 600,606.9 C591.67,610.2 583.33,613.28 575,616.25 C566.67,619.22 558.33,622.16 550,624.75 C541.67,627.34 533.33,629.81 525,631.9 C516.67,633.99 508.33,635.92 500,637.5 C495.83,638.29 491.67,639.27 487.5,639.6 C483.33,639.93 479.17,640.25 475,640.25 C450,640.25 425,640.25 400,640.25 C366.67,640.25 333.33,640.25 300,640.25 C256.5,640.25 213,640.23 169.5,640.2 Z" fill="url(#gg)"/>
<path d="M984,529 C942.67,528.47 901.33,528.1 860,528.1 C846.67,528.1 833.33,528.1 820,528.1 C811.67,528.1 803.33,528.44 795,528.75 C786.67,529.06 778.33,529.67 770,530.4 C765.83,530.77 761.67,531.32 757.5,531.9 C753.33,532.48 749.17,533.15 745,534 C740.83,534.85 736.67,535.97 732.5,537.25 C728.33,538.53 724.17,540.17 720,541.9 C715.83,543.63 711.67,545.68 707.5,547.75 C703.33,549.82 699.17,552.11 695,554.4 C686.67,558.98 678.33,563.81 670,568.75 C661.67,573.69 653.33,579.15 645,584.1 C636.67,589.05 628.33,594.48 620,598.5 C613.33,601.72 606.67,604.26 600,606.9 C591.67,610.2 583.33,613.28 575,616.25 C566.67,619.22 558.33,622.16 550,624.75 C541.67,627.34 533.33,629.81 525,631.9 C516.67,633.99 508.33,635.92 500,637.5 C495.83,638.29 491.67,639.27 487.5,639.6 C483.33,639.93 479.17,640.25 475,640.25 C450,640.25 425,640.25 400,640.25 C366.67,640.25 333.33,640.25 300,640.25 C256.5,640.25 213,640.23 169.5,640.2 L169.5,635.8 L360,536 L900,397 L1184.3,393.2 L1184.3,393.2" fill="none" stroke="#666666" stroke-width="2.3" stroke-linejoin="round" stroke-linecap="round"/>
<path d="M984,529 L1184.3,393.2" fill="none" stroke="#666666" stroke-width="1.7" stroke-linecap="round"/>
<path d="M351.1,560 L390,560 L390,630.9 L351.1,630.9 Z" fill="url(#ga1)" opacity="0.8"/>
<path d="M723.1,460 L761.6,460 L761.6,526.5 Q738,528.5 723.1,536.9 Z" fill="url(#ga2)" opacity="0.8"/>
<g transform="translate(354,603.7) scale(1.18)"><circle r="10" fill="url(#gb)"/><circle cx="1.4" cy="0.3" r="6.4" fill="url(#gbi)"/><g><path d="M9.66,-0.85 A9.7,9.7 0 0 1 1.35,9.6 L2.24,6.87 Q5.98,6.32 9.66,-0.85Z" fill="#fff"/><path d="M-8.06,-3.13 A5.26,5.26 0 0 1 -3.73,-7.9 A19.3,19.3 0 0 1 -8.06,-3.13Z" fill="#fff"/></g></g>
<g transform="translate(372.1,619.3) scale(0.62)"><circle r="10" fill="url(#gb)"/><circle cx="1.4" cy="0.3" r="6.4" fill="url(#gbi)"/><g opacity="0.25"><path d="M9.66,-0.85 A9.7,9.7 0 0 1 1.35,9.6 L2.24,6.87 Q5.98,6.32 9.66,-0.85Z" fill="#fff"/><path d="M-8.06,-3.13 A5.26,5.26 0 0 1 -3.73,-7.9 A19.3,19.3 0 0 1 -8.06,-3.13Z" fill="#fff"/></g></g>
<g transform="translate(390,629.3) scale(0.62)"><circle r="10" fill="url(#gb)"/><circle cx="1.4" cy="0.3" r="6.4" fill="url(#gbi)"/><g><path d="M9.66,-0.85 A9.7,9.7 0 0 1 1.35,9.6 L2.24,6.87 Q5.98,6.32 9.66,-0.85Z" fill="#fff"/><path d="M-8.06,-3.13 A5.26,5.26 0 0 1 -3.73,-7.9 A19.3,19.3 0 0 1 -8.06,-3.13Z" fill="#fff"/></g></g>
<g transform="translate(735,489.25) scale(0.6)"><circle r="10" fill="url(#gb)"/><circle cx="1.4" cy="0.3" r="6.4" fill="url(#gbi)"/><g><path d="M9.66,-0.85 A9.7,9.7 0 0 1 1.35,9.6 L2.24,6.87 Q5.98,6.32 9.66,-0.85Z" fill="#fff"/><path d="M-8.06,-3.13 A5.26,5.26 0 0 1 -3.73,-7.9 A19.3,19.3 0 0 1 -8.06,-3.13Z" fill="#fff"/></g></g>
<g transform="translate(745.25,506.25) scale(0.6)"><circle r="10" fill="url(#gb)"/><circle cx="1.4" cy="0.3" r="6.4" fill="url(#gbi)"/><g><path d="M9.66,-0.85 A9.7,9.7 0 0 1 1.35,9.6 L2.24,6.87 Q5.98,6.32 9.66,-0.85Z" fill="#fff"/><path d="M-8.06,-3.13 A5.26,5.26 0 0 1 -3.73,-7.9 A19.3,19.3 0 0 1 -8.06,-3.13Z" fill="#fff"/></g></g>
<g transform="translate(722.75,521.25) scale(1.2)"><circle r="10" fill="url(#gb)"/><circle cx="1.4" cy="0.3" r="6.4" fill="url(#gbi)"/><g><path d="M9.66,-0.85 A9.7,9.7 0 0 1 1.35,9.6 L2.24,6.87 Q5.98,6.32 9.66,-0.85Z" fill="#fff"/><path d="M-8.06,-3.13 A5.26,5.26 0 0 1 -3.73,-7.9 A19.3,19.3 0 0 1 -8.06,-3.13Z" fill="#fff"/></g></g>
<path d="M180,456 L180,456 C220,456 260,455.69 300,455.3 C333.33,454.97 366.67,453.64 400,452.5 C408.33,452.22 416.67,451.92 425,451.5 C433.33,451.08 441.67,450.45 450,449.75 C458.33,449.05 466.67,448.09 475,447.1 C483.33,446.11 491.67,445.01 500,443.75 C508.33,442.49 516.67,441.04 525,439.4 C533.33,437.76 541.67,435.81 550,433.75 C558.33,431.69 566.67,429.38 575,426.9 C583.33,424.42 591.67,421.62 600,418.75 C606.67,416.46 613.33,414.25 620,411.5 C628.33,408.06 636.67,403.7 645,399.4 C653.33,395.1 661.67,390.08 670,385.6 C678.33,381.12 686.67,376.53 695,372.5 C703.33,368.47 711.67,364.4 720,361.25 C728.33,358.1 736.67,355.17 745,353.1 C753.33,351.03 761.67,349 770,348.1 C778.33,347.2 786.67,346.25 795,346.25 C803.33,346.25 811.67,346.48 820,346.6 C833.33,346.8 846.67,347.2 860,347.25 C906,347.43 952,347.5 998,347.5 L1194.7,213.2 L1194.7,342.2 L1000,473.75 C953.33,472.93 906.67,472.32 860,471.9 C846.67,471.78 833.33,471.6 820,471.6 C811.67,471.6 803.33,471.84 795,472.1 C786.67,472.36 778.33,472.99 770,473.75 C765.83,474.13 761.67,474.72 757.5,475.4 C753.33,476.08 749.17,477.05 745,478.1 C740.83,479.15 736.67,480.39 732.5,481.9 C728.33,483.41 724.17,485.58 720,487.5 C711.67,491.33 703.33,495.44 695,499.4 C686.67,503.36 678.33,507.3 670,511.25 C661.67,515.2 653.33,519.11 645,523.1 C636.67,527.09 628.33,531.59 620,535.2 C613.33,538.09 606.67,540.71 600,543.1 C591.67,546.09 583.33,548.69 575,551.25 C566.67,553.81 558.33,556.42 550,558.5 C541.67,560.58 533.33,562.37 525,564 C516.67,565.63 508.33,567.1 500,568.4 C491.67,569.7 483.33,570.85 475,571.9 C466.67,572.95 458.33,573.93 450,574.75 C441.67,575.57 433.33,576.29 425,576.9 C416.67,577.51 408.33,578.19 400,578.5 C386.67,579 373.33,579.33 360,579.5 C340,579.76 320,580 300,580 C259.83,580 219.67,580 179.5,580 Z" fill="url(#go)" stroke="#df4a08" stroke-width="2.4" stroke-linejoin="round"/>
<path d="M180,456 L368,357.3 C375.53,356.93 383.07,356.57 390.6,356.25 C403.73,355.7 416.87,355.4 430,354.75 C438.33,354.34 446.67,353.68 455,353.1 C463.33,352.52 471.67,351.96 480,351.25 C488.33,350.54 496.67,349.68 505,348.75 C513.33,347.82 521.67,346.73 530,345.6 C538.33,344.47 546.67,343.24 555,341.9 C563.33,340.56 571.67,339.03 580,337.5 C588.33,335.97 596.67,334.67 605,332.7 C611.97,331.05 618.93,328.73 625.9,326.4 C634.57,323.5 643.23,320.08 651.9,316.5 C660.53,312.93 669.17,309.09 677.8,304.8 C686.43,300.51 695.07,295.41 703.7,290.5 C709.97,286.93 716.23,282.88 722.5,279.5 C735.67,272.4 748.83,266.1 762,260.1 C768.5,257.14 775,254.41 781.5,251.7 C790.13,248.11 798.77,244.5 807.4,241.3 C811.6,239.74 815.8,238.41 820,236.9 C828.33,233.89 836.67,230.06 845,227.5 C853.33,224.94 861.67,222.8 870,221 C876.25,219.65 882.5,218.4 888.75,217.5 C892.92,216.9 897.08,216.27 901.25,216 C904.17,215.81 907.08,215.64 910,215.6 C960,214.98 1010,215.17 1060,214.8 C1104.9,214.47 1149.8,213.87 1194.7,213.2 L1194.7,213.2 L998,347.5 C952,347.5 906,347.43 860,347.25 C846.67,347.2 833.33,346.8 820,346.6 C811.67,346.48 803.33,346.25 795,346.25 C786.67,346.25 778.33,347.2 770,348.1 C761.67,349 753.33,351.03 745,353.1 C736.67,355.17 728.33,358.1 720,361.25 C711.67,364.4 703.33,368.47 695,372.5 C686.67,376.53 678.33,381.12 670,385.6 C661.67,390.08 653.33,395.1 645,399.4 C636.67,403.7 628.33,408.06 620,411.5 C613.33,414.25 606.67,416.46 600,418.75 C591.67,421.62 583.33,424.42 575,426.9 C566.67,429.38 558.33,431.69 550,433.75 C541.67,435.81 533.33,437.76 525,439.4 C516.67,441.04 508.33,442.49 500,443.75 C491.67,445.01 483.33,446.11 475,447.1 C466.67,448.09 458.33,449.05 450,449.75 C441.67,450.45 433.33,451.08 425,451.5 C416.67,451.92 408.33,452.22 400,452.5 C366.67,453.64 333.33,454.97 300,455.3 C260,455.69 220,456 180,456 Z" fill="url(#go)"/>
<path d="M998,347.5 C952,347.5 906,347.43 860,347.25 C846.67,347.2 833.33,346.8 820,346.6 C811.67,346.48 803.33,346.25 795,346.25 C786.67,346.25 778.33,347.2 770,348.1 C761.67,349 753.33,351.03 745,353.1 C736.67,355.17 728.33,358.1 720,361.25 C711.67,364.4 703.33,368.47 695,372.5 C686.67,376.53 678.33,381.12 670,385.6 C661.67,390.08 653.33,395.1 645,399.4 C636.67,403.7 628.33,408.06 620,411.5 C613.33,414.25 606.67,416.46 600,418.75 C591.67,421.62 583.33,424.42 575,426.9 C566.67,429.38 558.33,431.69 550,433.75 C541.67,435.81 533.33,437.76 525,439.4 C516.67,441.04 508.33,442.49 500,443.75 C491.67,445.01 483.33,446.11 475,447.1 C466.67,448.09 458.33,449.05 450,449.75 C441.67,450.45 433.33,451.08 425,451.5 C416.67,451.92 408.33,452.22 400,452.5 C366.67,453.64 333.33,454.97 300,455.3 C260,455.69 220,456 180,456 L180,456 L368,357.3 C375.53,356.93 383.07,356.57 390.6,356.25 C403.73,355.7 416.87,355.4 430,354.75 C438.33,354.34 446.67,353.68 455,353.1 C463.33,352.52 471.67,351.96 480,351.25 C488.33,350.54 496.67,349.68 505,348.75 C513.33,347.82 521.67,346.73 530,345.6 C538.33,344.47 546.67,343.24 555,341.9 C563.33,340.56 571.67,339.03 580,337.5 C588.33,335.97 596.67,334.67 605,332.7 C611.97,331.05 618.93,328.73 625.9,326.4 C634.57,323.5 643.23,320.08 651.9,316.5 C660.53,312.93 669.17,309.09 677.8,304.8 C686.43,300.51 695.07,295.41 703.7,290.5 C709.97,286.93 716.23,282.88 722.5,279.5 C735.67,272.4 748.83,266.1 762,260.1 C768.5,257.14 775,254.41 781.5,251.7 C790.13,248.11 798.77,244.5 807.4,241.3 C811.6,239.74 815.8,238.41 820,236.9 C828.33,233.89 836.67,230.06 845,227.5 C853.33,224.94 861.67,222.8 870,221 C876.25,219.65 882.5,218.4 888.75,217.5 C892.92,216.9 897.08,216.27 901.25,216 C904.17,215.81 907.08,215.64 910,215.6 C960,214.98 1010,215.17 1060,214.8 C1104.9,214.47 1149.8,213.87 1194.7,213.2 L1194.7,213.2" fill="none" stroke="#df4a08" stroke-width="2.4" stroke-linejoin="round" stroke-linecap="round"/>
<path d="M998,347.5 L1194.7,213.2" fill="none" stroke="#df4a08" stroke-width="1.7" stroke-linecap="round"/>
<path d="M368.3,208 L412,258.3 L390.1,275.4 L390.9,429.5 Q375,434 351.2,434 L350.9,299 L323.2,319 Z" fill="url(#ga1)"/>
<path d="M739.6,62.1 L783.2,112.2 L761.6,129 L761.8,319.1 Q736,321.5 722.8,331.8 L722.3,153 L694.4,173 Z" fill="url(#ga2)"/>
<g transform="translate(342.5,335.5) scale(0.6)"><circle r="10" fill="url(#gb)"/><circle cx="1.4" cy="0.3" r="6.4" fill="url(#gbi)"/><g><path d="M9.66,-0.85 A9.7,9.7 0 0 1 1.35,9.6 L2.24,6.87 Q5.98,6.32 9.66,-0.85Z" fill="#fff"/><path d="M-8.06,-3.13 A5.26,5.26 0 0 1 -3.73,-7.9 A19.3,19.3 0 0 1 -8.06,-3.13Z" fill="#fff"/></g></g>
<g transform="translate(356.25,360) scale(0.8)"><circle r="10" fill="url(#gb)"/><circle cx="1.4" cy="0.3" r="6.4" fill="url(#gbi)"/><g><path d="M9.66,-0.85 A9.7,9.7 0 0 1 1.35,9.6 L2.24,6.87 Q5.98,6.32 9.66,-0.85Z" fill="#fff"/><path d="M-8.06,-3.13 A5.26,5.26 0 0 1 -3.73,-7.9 A19.3,19.3 0 0 1 -8.06,-3.13Z" fill="#fff"/></g></g>
<g transform="translate(381.25,383) scale(0.6)"><circle r="10" fill="url(#gb)"/><circle cx="1.4" cy="0.3" r="6.4" fill="url(#gbi)"/><g><path d="M9.66,-0.85 A9.7,9.7 0 0 1 1.35,9.6 L2.24,6.87 Q5.98,6.32 9.66,-0.85Z" fill="#fff"/><path d="M-8.06,-3.13 A5.26,5.26 0 0 1 -3.73,-7.9 A19.3,19.3 0 0 1 -8.06,-3.13Z" fill="#fff"/></g></g>
<g transform="translate(357.5,395) scale(1.15)"><circle r="10" fill="url(#gb)"/><circle cx="1.4" cy="0.3" r="6.4" fill="url(#gbi)"/><g><path d="M9.66,-0.85 A9.7,9.7 0 0 1 1.35,9.6 L2.24,6.87 Q5.98,6.32 9.66,-0.85Z" fill="#fff"/><path d="M-8.06,-3.13 A5.26,5.26 0 0 1 -3.73,-7.9 A19.3,19.3 0 0 1 -8.06,-3.13Z" fill="#fff"/></g></g>
<g transform="translate(378,412) scale(0.8)"><circle r="10" fill="url(#gb)"/><circle cx="1.4" cy="0.3" r="6.4" fill="url(#gbi)"/><g><path d="M9.66,-0.85 A9.7,9.7 0 0 1 1.35,9.6 L2.24,6.87 Q5.98,6.32 9.66,-0.85Z" fill="#fff"/><path d="M-8.06,-3.13 A5.26,5.26 0 0 1 -3.73,-7.9 A19.3,19.3 0 0 1 -8.06,-3.13Z" fill="#fff"/></g></g>
<g transform="translate(352.5,422.5) scale(0.6)"><circle r="10" fill="url(#gb)"/><circle cx="1.4" cy="0.3" r="6.4" fill="url(#gbi)"/><g><path d="M9.66,-0.85 A9.7,9.7 0 0 1 1.35,9.6 L2.24,6.87 Q5.98,6.32 9.66,-0.85Z" fill="#fff"/><path d="M-8.06,-3.13 A5.26,5.26 0 0 1 -3.73,-7.9 A19.3,19.3 0 0 1 -8.06,-3.13Z" fill="#fff"/></g></g>
<g transform="translate(730,266.25) scale(1.18)"><circle r="10" fill="url(#gb)"/><circle cx="1.4" cy="0.3" r="6.4" fill="url(#gbi)"/><g><path d="M9.66,-0.85 A9.7,9.7 0 0 1 1.35,9.6 L2.24,6.87 Q5.98,6.32 9.66,-0.85Z" fill="#fff"/><path d="M-8.06,-3.13 A5.26,5.26 0 0 1 -3.73,-7.9 A19.3,19.3 0 0 1 -8.06,-3.13Z" fill="#fff"/></g></g>
<g transform="translate(748,282) scale(0.6)"><circle r="10" fill="url(#gb)"/><circle cx="1.4" cy="0.3" r="6.4" fill="url(#gbi)"/><g><path d="M9.66,-0.85 A9.7,9.7 0 0 1 1.35,9.6 L2.24,6.87 Q5.98,6.32 9.66,-0.85Z" fill="#fff"/><path d="M-8.06,-3.13 A5.26,5.26 0 0 1 -3.73,-7.9 A19.3,19.3 0 0 1 -8.06,-3.13Z" fill="#fff"/></g></g>
<g transform="translate(760.75,302.5) scale(0.6)"><circle r="10" fill="url(#gb)"/><circle cx="1.4" cy="0.3" r="6.4" fill="url(#gbi)"/><g><path d="M9.66,-0.85 A9.7,9.7 0 0 1 1.35,9.6 L2.24,6.87 Q5.98,6.32 9.66,-0.85Z" fill="#fff"/><path d="M-8.06,-3.13 A5.26,5.26 0 0 1 -3.73,-7.9 A19.3,19.3 0 0 1 -8.06,-3.13Z" fill="#fff"/></g></g>
<g transform="translate(743,310) scale(0.8)"><circle r="10" fill="url(#gb)"/><circle cx="1.4" cy="0.3" r="6.4" fill="url(#gbi)"/><g><path d="M9.66,-0.85 A9.7,9.7 0 0 1 1.35,9.6 L2.24,6.87 Q5.98,6.32 9.66,-0.85Z" fill="#fff"/><path d="M-8.06,-3.13 A5.26,5.26 0 0 1 -3.73,-7.9 A19.3,19.3 0 0 1 -8.06,-3.13Z" fill="#fff"/></g></g>
<g font-family="'Liberation Sans', sans-serif" font-size="61" fill="#646464">
<text x="1241.1" y="299.6" textLength="521.2" lengthAdjust="spacingAndGlyphs">Daunen und Federn</text>
<text x="1240.2" y="456.6" textLength="255.8" lengthAdjust="spacingAndGlyphs">Membran</text>
<text x="1241.1" y="632.4" textLength="521.2" lengthAdjust="spacingAndGlyphs">Daunen und Federn</text>
</g>
</svg>
</body></html>
